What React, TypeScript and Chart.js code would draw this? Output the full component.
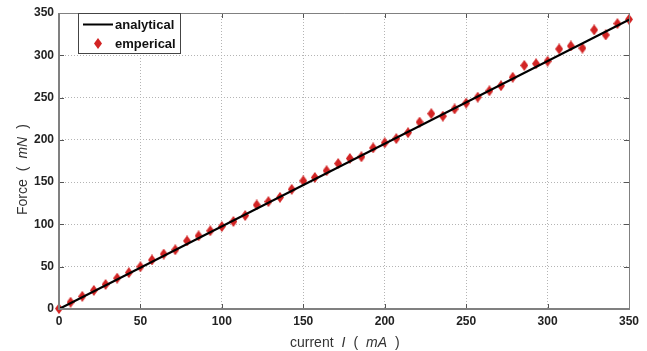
import React, { useEffect, useRef } from "react";
import { Chart, registerables } from "chart.js";

Chart.register(...registerables);

// current I (mA) of the measured points
const currentMA = [
  0, 7.1, 14.3, 21.4, 28.6, 35.7, 42.9, 50, 57.1, 64.3,
  71.4, 78.6, 85.7, 92.9, 100, 107.1, 114.3, 121.4, 128.6, 135.7,
  142.9, 150, 157.1, 164.3, 171.4, 178.6, 185.7, 192.9, 200, 207.1,
  214.3, 221.4, 228.6, 235.7, 242.9, 250, 257.1, 264.3, 271.4, 278.6,
  285.7, 292.9, 300, 307.1, 314.3, 321.4, 328.6, 335.7, 342.9, 350,
];
// measured force (mN)
const empericalForce = [
  0.5, 8, 15, 22, 29, 36.5, 43, 50, 58, 65,
  70, 80.5, 86.5, 92.5, 97.5, 103.5, 110.5, 123, 127, 132,
  141.5, 151.5, 155.5, 163.5, 172, 178, 180, 190.5, 196.5, 201.5,
  208.5, 221, 231, 228, 236.5, 243.5, 250.5, 258, 264, 274,
  288, 290, 293, 307.5, 311, 308.5, 330, 324, 337.5, 342.5,
];
// analytical line end points
const analyticalCurrent = [0, 350];
const analyticalForce = [0, 342];

const xTicks = [0, 50, 100, 150, 200, 250, 300, 350];
const yTicks = [0, 50, 100, 150, 200, 250, 300, 350];

const RED = "#d22424";

function makeDiamond(w: number, h: number, color: string) {
  const c = document.createElement("canvas");
  c.width = w;
  c.height = h;
  const g = c.getContext("2d")!;
  g.fillStyle = color;
  g.beginPath();
  g.moveTo(w / 2, 0);
  g.lineTo(w, h / 2);
  g.lineTo(w / 2, h);
  g.lineTo(0, h / 2);
  g.closePath();
  g.fill();
  return c;
}

const FONT = "'Liberation Sans', Arial, sans-serif";

function drawPieces(
  ctx: CanvasRenderingContext2D,
  pieces: { t: string; italic?: boolean }[],
  gap: number
) {
  let x = 0;
  pieces.forEach((p, i) => {
    ctx.font = `${p.italic ? "italic " : ""}14px ${FONT}`;
    ctx.fillText(p.t, x, 0);
    x += ctx.measureText(p.t).width + (i < pieces.length - 1 ? gap : 0);
  });
}

const decor = {
  id: "decor",
  afterDraw(chart: any) {
    const ctx: CanvasRenderingContext2D = chart.ctx;
    const { left, right, top, bottom } = chart.chartArea;
    const xs = chart.scales.x;
    const ys = chart.scales.y;
    ctx.save();
    // inner ticks
    ctx.strokeStyle = "#555";
    ctx.lineWidth = 1;
    xTicks.forEach((v) => {
      const px = Math.round(xs.getPixelForValue(v)) + 0.5;
      ctx.beginPath();
      ctx.moveTo(px, bottom);
      ctx.lineTo(px, bottom - 5);
      ctx.moveTo(px, top);
      ctx.lineTo(px, top + 5);
      ctx.stroke();
    });
    yTicks.forEach((v) => {
      const py = Math.round(ys.getPixelForValue(v)) + 0.5;
      ctx.beginPath();
      ctx.moveTo(left, py);
      ctx.lineTo(left + 5, py);
      ctx.moveTo(right, py);
      ctx.lineTo(right - 5, py);
      ctx.stroke();
    });
    // box
    ctx.strokeStyle = "#808080";
    ctx.lineWidth = 1;
    ctx.beginPath();
    ctx.moveTo(left, top + 0.5);
    ctx.lineTo(right + 0.5, top + 0.5);
    ctx.lineTo(right + 0.5, bottom);
    ctx.stroke();
    ctx.lineWidth = 2;
    ctx.beginPath();
    ctx.moveTo(left, top);
    ctx.lineTo(left, bottom);
    ctx.lineTo(right + 1, bottom);
    ctx.stroke();

    // legend
    const ds = chart.data.datasets;
    ctx.fillStyle = "#fff";
    ctx.fillRect(78.5, 13.5, 102, 40);
    ctx.strokeStyle = "#444";
    ctx.lineWidth = 1;
    ctx.strokeRect(78.5, 13.5, 102, 40);
    ctx.strokeStyle = "#000";
    ctx.lineWidth = 2;
    ctx.beginPath();
    ctx.moveTo(83, 24.5);
    ctx.lineTo(113, 24.5);
    ctx.stroke();
    ctx.drawImage(ds[1].pointStyle, 94, 38);
    ctx.fillStyle = "#111";
    ctx.font = `bold 13px ${FONT}`;
    ctx.textBaseline = "middle";
    ctx.textAlign = "left";
    ctx.fillText(ds[0].label, 115, 25);
    ctx.fillText(ds[1].label, 115, 44);

    // axis titles
    ctx.fillStyle = "#333";
    ctx.textBaseline = "alphabetic";
    ctx.save();
    ctx.translate(290, 347);
    drawPieces(
      ctx,
      [{ t: "current" }, { t: "I", italic: true }, { t: "(" }, { t: "mA", italic: true }, { t: ")" }],
      8
    );
    ctx.restore();
    ctx.save();
    ctx.translate(27, 215);
    ctx.rotate(-Math.PI / 2);
    drawPieces(ctx, [{ t: "Force" }, { t: "(" }, { t: "mN", italic: true }, { t: ")" }], 8);
    ctx.restore();
    ctx.restore();
  },
};

export default function App() {
  const ref = useRef<HTMLCanvasElement>(null);
  useEffect(() => {
    const diamond = makeDiamond(8, 11, RED);
    const chart = new Chart(ref.current!, {
      type: "scatter",
      plugins: [decor],
      data: {
        datasets: [
          {
            label: "analytical",
            data: analyticalCurrent.map((x, i) => ({ x, y: analyticalForce[i] })),
            showLine: true,
            borderColor: "#000",
            borderWidth: 2,
            pointRadius: 0,
            order: 0,
            clip: false,
          },
          {
            label: "emperical",
            data: currentMA.map((x, i) => ({ x, y: empericalForce[i] })),
            pointStyle: diamond as any,
            backgroundColor: RED,
            borderColor: RED,
            pointRadius: 5,
            order: 1,
            clip: false,
          },
        ],
      },
      options: {
        animation: false,
        responsive: false,
        layout: { padding: { left: 0, right: 18, top: 13, bottom: 0 } },
        plugins: { legend: { display: false }, tooltip: { enabled: false } },
        scales: {
          x: {
            type: "linear",
            min: 0,
            max: 350,
            afterBuildTicks: (s: any) => {
              s.ticks = xTicks.map((v) => ({ value: v }));
            },
            afterFit: (s: any) => {
              s.height = 42;
            },
            grid: { color: "#b4b4b4", lineWidth: 1, drawTicks: false },
            border: { display: false, dash: [1, 2] },
            ticks: {
              padding: 5,
              color: "#222",
              font: { family: FONT, size: 12, weight: "bold" },
              maxRotation: 0,
            },
          },
          y: {
            type: "linear",
            min: 0,
            max: 350,
            afterBuildTicks: (s: any) => {
              s.ticks = yTicks.map((v) => ({ value: v }));
            },
            afterFit: (s: any) => {
              s.width = 59;
            },
            grid: { color: "#b4b4b4", lineWidth: 1, drawTicks: false },
            border: { display: false, dash: [1, 2] },
            ticks: {
              padding: 5,
              color: "#222",
              font: { family: FONT, size: 12, weight: "bold" },
            },
          },
        },
      },
    });
    return () => chart.destroy();
  }, []);
  return (
    <div style={{ position: "fixed", left: 0, top: 0, width: 647, height: 351, background: "#fff" }}>
      <canvas ref={ref} width={647} height={351} style={{ width: 647, height: 351 }} />
    </div>
  );
}
